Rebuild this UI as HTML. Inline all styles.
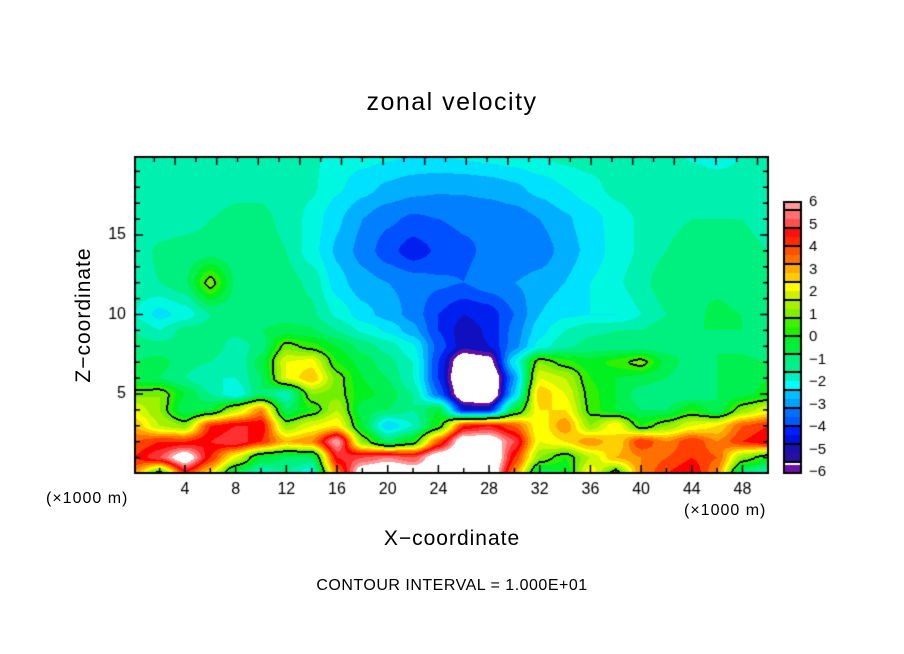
<!DOCTYPE html>
<html><head><meta charset="utf-8"><style>
html,body{margin:0;padding:0;background:#fff;}
body{width:904px;height:654px;position:relative;overflow:hidden;font-family:"Liberation Sans",sans-serif;}
.t{position:absolute;color:#000;white-space:nowrap;}
</style></head><body>
<div class="t" style="left:0;width:904px;text-align:center;top:88px;font-size:25px;letter-spacing:1.5px;">zonal velocity</div>
<div class="t" style="left:84px;top:315px;font-size:21px;letter-spacing:1px;transform:translate(-50%,-50%) rotate(-90deg);">Z−coordinate</div>
<div class="t" style="left:0;width:904px;text-align:center;top:527px;font-size:21px;letter-spacing:1px;">X−coordinate</div>
<div class="t" style="left:0;width:904px;text-align:center;top:577px;font-size:16px;letter-spacing:0.5px;">CONTOUR INTERVAL = 1.000E+01</div>
<div class="t" style="left:46px;top:490px;font-size:16px;letter-spacing:1px;">(×1000 m)</div>
<div class="t" style="left:684px;top:502px;font-size:16px;letter-spacing:1px;">(×1000 m)</div>
<canvas id="cv" width="904" height="654" style="position:absolute;left:0;top:0;"></canvas>
<script>
const xLevels=[0,2,4,6,8,10,12,14,16,18,20,22,24,26,28,30,32,34,36,38,40,42,44,46,48,50];
const zLevels=[0,1,2,3,4,5,6,7,8,9,10,12,14,16,18,20];
const z0=[3,-0.5,4,2,-1.5,-2.5,-2,-3,3,7,8,7,7,8,7.5,3,-1.5,-1,2,-0.5,3,4,4.5,3,-2,-2.5];
const z1=[4,5,7,4,1.5,-1,-1.5,-1.5,4.5,5,5.5,5,7,8,8,4,0.5,-0.5,1,2.5,3,3.5,4,3.5,0.5,-0.5];
const z2=[3.5,4,4,4.5,5,4,2.5,3,6,0.5,-1.5,-0.5,3.5,7,7,5,1.5,2,3,2,4,3,4,3,4,4.5];
const z3=[2.5,1,0.5,4,4.5,4.5,0.5,1.5,2,-1,-3.5,-2.5,-0.5,4,4.5,3.5,1.5,3,0.5,2,-0.5,0.5,1.5,2,3.5,4];
const z4=[1.5,0.5,-1.5,-1,1,3,-1.5,-0.5,1,-1.3,-1.5,-2,-1,-5.5,-5.5,-1,2,2,-0.2,-1,-1.5,-1.5,-0.5,-1.5,0.5,1.5];
const z5=[0.3,0.5,-1,-2,-3,-1.5,-2.5,0.5,0.3,-0.8,-1.2,-2,-4.5,-7.5,-8,-3.5,2.5,1.5,-0.3,-1,-1.8,-2,-2,-1.5,-1.2,-0.8];
const z6=[-1.3,-1.5,-2,-2.5,-2.5,-1.5,1.5,2.5,0.3,-1,-1.5,-2.5,-5,-8,-8,-4,1.5,1,-0.5,-1,-1.2,-1.5,-2,-1.5,-1.3,-1];
const z7=[-1.5,-1.3,-1.8,-2,-2.5,-1.2,1.5,1.8,-0.5,-1.2,-1.8,-2.5,-5,-7.5,-7,-3,0.5,-0.3,-0.8,-0.3,0.3,-1.2,-1.8,-1.5,-1.3,-1.5];
const z8=[-1.8,-1.8,-1.8,-1.6,-2.3,-1.8,0.3,-0.3,-1,-1.7,-2.2,-2.9,-4.7,-5.8,-5.5,-4.2,-2.8,-2.1,-1.8,-1.8,-1.8,-1.8,-1.5,-1.5,-1.7,-2];
const z9=[-2,-2.5,-1.8,-1.8,-1.8,-1.5,-1.3,-1.4,-2,-2.6,-3.1,-3.8,-5,-5.8,-5.4,-4.3,-3.2,-2.5,-2.1,-2,-2,-1.6,-1.5,-1.5,-1.5,-1.6];
const z10=[-2.5,-3.2,-2.8,-2,-1.8,-1.8,-1.7,-1.9,-2.6,-3.3,-3.7,-4.2,-5,-5.5,-5.3,-4.5,-3.5,-3.1,-3,-3,-2.5,-2,-1.6,-1.4,-1.5,-1.9];
const z12=[-2.2,-2,-1.6,0.3,-1.6,-1.8,-1.8,-2.1,-3.3,-3.8,-4,-4.2,-4.4,-4.5,-4.2,-4,-3.8,-3.5,-3,-2.6,-2.2,-1.6,-1.6,-1.6,-1.8,-2];
const z14=[-2.3,-1.9,-1.8,-1.8,-1.8,-1.8,-2,-2.8,-3.6,-4.2,-4.8,-5.3,-4.9,-4.6,-4.4,-4.5,-4.3,-3.8,-3.3,-2.8,-2.4,-2,-1.8,-1.8,-1.9,-2];
const z16=[-2.4,-2.3,-2.2,-2,-1.9,-1.9,-2.1,-2.7,-3.4,-4,-4.4,-4.6,-4.5,-4.4,-4.4,-4.3,-4,-3.6,-3.2,-2.8,-2.4,-2.1,-2,-2,-2,-2.1];
const z18=[-2.3,-2.3,-2.2,-2.2,-2.1,-2.1,-2.2,-2.4,-2.9,-3.3,-3.6,-3.8,-3.9,-3.9,-3.8,-3.6,-3.3,-3,-2.7,-2.3,-2.1,-2,-2,-2.1,-2.2,-2.3];
const z20=[-2.3,-2.3,-2.3,-2.3,-2.2,-2.2,-2.3,-2.4,-2.7,-2.8,-2.9,-3,-3,-2.9,-2.8,-2.7,-2.5,-2.3,-2.2,-2.1,-2.2,-2.3,-2.6,-2.8,-2.5,-2.4];
const fieldRows=[z0,z1,z2,z3,z4,z5,z6,z7,z8,z9,z10,z12,z14,z16,z18,z20];
const xTickLabels=[4,8,12,16,20,24,28,32,36,40,44,48];
const zTickLabels=[5,10,15];
const cbarLabels=[6,5,4,3,2,1,0,-1,-2,-3,-4,-5,-6];
const bandColors=["#ff9999","#ff6666","#ff3030","#ff0000","#ff4000","#ff7000","#ffa000","#ffd000","#ffff00","#d0f800","#a0f000","#70f000","#30f000","#00f020","#00f050","#00f080","#00f0b0","#00f8e0","#00e0ff","#00b0ff","#0080ff","#0050ff","#0020f0","#1010c0","#6010a0"];
const cbarFull=[["#ff7070","#ff5050"],["#ff1010","#ff2a00"],["#ff5000","#ff7000"],["#ffaa00","#ffcc00"],["#ffff00","#ccf000"],["#a8f000","#80f000"],["#40f000","#20f000"],["#00f030","#00f040"],["#00f080","#00f090"],["#00f0c0","#00ffff"],["#00c0ff","#00a0ff"],["#0070ff","#0058ff"],["#0020ff","#0010e0"],["#1a10b0","#2810a0"]];

const L=135,T=157,R=768,B=473;
const sx=x=>134.3+12.67*x;
const sz=z=>473.5-15.9*z;
const ix=px=>(px-134.3)/12.67;
const iz=py=>(473.5-py)/15.9;
function hex(c){return [parseInt(c.slice(1,3),16),parseInt(c.slice(3,5),16),parseInt(c.slice(5,7),16)];}
const bandRGB=bandColors.map(hex);
function colorOf(v){
  if(v>6)return [255,255,255];
  if(v<-6.5)return [255,255,255];
  let i=Math.floor((6-v)/0.5); if(i<0)i=0; if(i>24)i=24; return bandRGB[i];
}
function findIdx(arr,v){for(let i=0;i<arr.length-1;i++){if(v<=arr[i+1])return i;}return arr.length-2;}
function field(x,z){
  x=Math.max(0,Math.min(50,x)); z=Math.max(0,Math.min(20,z));
  const i=findIdx(xLevels,x), j=findIdx(zLevels,z);
  let fx=(x-xLevels[i])/(xLevels[i+1]-xLevels[i]), fz=(z-zLevels[j])/(zLevels[j+1]-zLevels[j]);
  fx=fx*fx*(3-2*fx)*0.5+fx*0.5; fz=fz*fz*(3-2*fz)*0.5+fz*0.5;
  const a=fieldRows[j][i],b=fieldRows[j][i+1],c=fieldRows[j+1][i],d=fieldRows[j+1][i+1];
  return (a*(1-fx)+b*fx)*(1-fz)+(c*(1-fx)+d*fx)*fz;
}
const cv=document.getElementById('cv');const ctx=cv.getContext('2d');
const W=R-L,H=B-T;
const img=ctx.createImageData(W,H);
const vals=new Float32Array(W*H);
for(let py=0;py<H;py++)for(let px=0;px<W;px++){vals[py*W+px]=field(ix(L+px+0.5),iz(T+py+0.5));}
for(let k=0;k<W*H;k++){const c=colorOf(vals[k]);img.data[k*4]=c[0];img.data[k*4+1]=c[1];img.data[k*4+2]=c[2];img.data[k*4+3]=255;}
for(let py=0;py<H;py++)for(let px=0;px<W;px++){
  const k=py*W+px,s=vals[k]>0;
  const marks=[];
  if(px<W-1&&(vals[k+1]>0)!==s)marks.push(k,k+1);
  if(py<H-1&&(vals[k+W]>0)!==s)marks.push(k,k+W);
  for(const m of marks){img.data[m*4]=0;img.data[m*4+1]=0;img.data[m*4+2]=0;}
}
ctx.putImageData(img,L,T);
ctx.fillStyle='#000';
ctx.lineWidth=2;ctx.strokeStyle='#000';ctx.strokeRect(L,T,W,H);
ctx.lineWidth=1.5;
function line(x1,y1,x2,y2){ctx.beginPath();ctx.moveTo(x1,y1);ctx.lineTo(x2,y2);ctx.stroke();}
for(let x=2;x<50;x+=2){const len=(x%4===0)?8:5;line(sx(x),B,sx(x),B-len);}
for(let k=0;k<30;k++){const px=154.3+20.8*k;if(px<=L+1||px>=R-1)continue;line(px,T,px,T+(k%2===1?8:5));}
for(let z=1;z<20;z++){const len=(z%5===0)?8:5;line(L,sz(z),L+len,sz(z));line(R,sz(z),R-len,sz(z));}
ctx.font='16px "Liberation Sans",sans-serif';
ctx.textAlign='center';ctx.textBaseline='middle';
xTickLabels.forEach(v=>{ctx.fillText(String(v),sx(v),490);});
ctx.textAlign='right';
zTickLabels.forEach(v=>{ctx.fillText(String(v),126,sz(v));});
const cbx=784,cbw=17;
ctx.fillStyle='#ff9a9a';ctx.fillRect(cbx,202,cbw,7);
cbarFull.forEach((p,i)=>{const y=211+18*i;ctx.fillStyle=p[0];ctx.fillRect(cbx,y,cbw,8);ctx.fillStyle=p[1];ctx.fillRect(cbx,y+8,cbw,8);});
ctx.fillStyle='#7010b0';ctx.fillRect(cbx,465,cbw,8);
ctx.strokeStyle='#000';ctx.lineWidth=2;ctx.strokeRect(cbx,202,cbw,271);
line(cbx,210,cbx+cbw,210);
for(let i=0;i<14;i++){line(cbx,211+18*i+17,cbx+cbw,211+18*i+17);}
ctx.fillStyle='#000';ctx.textAlign='left';ctx.font='15px "Liberation Sans",sans-serif';
cbarLabels.forEach((v,i)=>{ctx.fillText(v<0?'−'+(-v):String(v),809,202+22.5*i);});
</script>
</body></html>
